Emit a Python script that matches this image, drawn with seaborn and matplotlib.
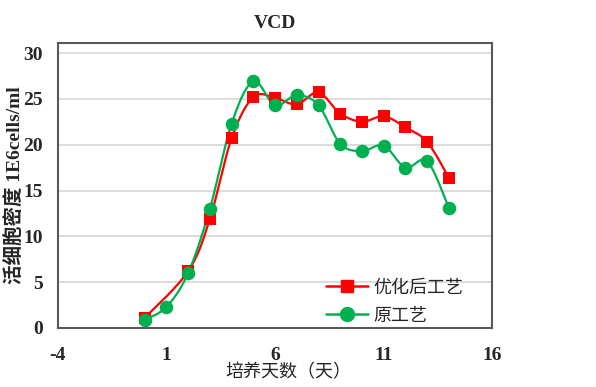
import matplotlib
matplotlib.use("Agg")
import matplotlib.pyplot as plt
from matplotlib.lines import Line2D
import numpy as np
import seaborn as sns

# data
days_opt = [0, 2, 3, 4, 5, 6, 7, 8, 9, 10, 11, 12, 13, 14]
vcd_opt = [1.1, 6.2, 11.9, 20.7, 25.2, 25.1, 24.4, 25.7, 23.4, 22.5, 23.1, 21.9, 20.3, 16.4]
days_old = [0, 1, 2, 3, 4, 5, 6, 7, 8, 9, 10, 11, 12, 13, 14]
vcd_old = [0.9, 2.3, 6.0, 13.0, 22.3, 26.9, 24.3, 25.4, 24.3, 20.1, 19.3, 19.9, 17.5, 18.2, 13.1]
labels = ["优化后工艺", "原工艺"]
xticks = [-4, 1, 6, 11, 16]
yticks = [0, 5, 10, 15, 20, 25, 30]

RED = "#FF0000"
GREEN = "#00B050"


def smooth(x, y, n=20):
    '''
    Catmull-Rom curve through the points, like the smoothed lines in Excel
    '''
    p = np.column_stack([x, y]).astype(float)
    p = np.vstack([p[0], p, p[-1]])
    out = []
    t = np.linspace(0, 1, n, endpoint=False)[:, None]
    for i in range(1, len(p) - 2):
        p0, p1, p2, p3 = p[i - 1], p[i], p[i + 1], p[i + 2]
        seg = 0.5 * ((2 * p1) + (-p0 + p2) * t + (2 * p0 - 5 * p1 + 4 * p2 - p3) * t ** 2
                     + (-p0 + 3 * p1 - 3 * p2 + p3) * t ** 3)
        out.append(seg)
    out.append(p[-2][None, :])
    out = np.vstack(out)
    return out[:, 0], out[:, 1]


sns.set_style("white")
plt.rcParams["font.family"] = ["Liberation Serif", "Noto Sans CJK SC"]
plt.rcParams["axes.unicode_minus"] = False

fig = plt.figure(figsize=(5.96, 3.87), dpi=100)
ax = fig.add_axes([0.097, 0.1525, 0.729, 0.7365])

for xs, ys, c, m, ms in [(days_opt, vcd_opt, RED, "s", 75), (days_old, vcd_old, GREEN, "o", 95)]:
    sx, sy = smooth(xs, ys)
    sns.lineplot(x=sx, y=sy, ax=ax, color=c, lw=1.6, sort=False, estimator=None, zorder=3)
    sns.scatterplot(x=xs, y=ys, ax=ax, color=c, marker=m, s=ms, linewidth=0, zorder=4)

ax.set_xlim(-4, 16)
ax.set_ylim(0, 31.1)
ax.set_xticks(xticks)
ax.set_yticks(yticks)
ax.yaxis.grid(True, color="#D9D9D9", lw=1.3)
ax.set_axisbelow(True)
ax.tick_params(length=0, labelsize=14)
ax.tick_params(axis="x", pad=14)
ax.tick_params(axis="y", pad=11)
for lab in ax.get_xticklabels() + ax.get_yticklabels():
    lab.set_fontweight("bold")
for sp in ax.spines.values():
    sp.set_color("#595959")
    sp.set_linewidth(1.5)

ax.set_title("VCD", fontsize=14, fontweight="bold", pad=11)
ax.set_xlabel("培养天数（天）", fontsize=13)
ax.xaxis.set_label_coords(0.53, -0.125)
ax.set_ylabel("活细胞密度 1E6cells/ml", fontsize=14, fontweight="bold", labelpad=0)
ax.yaxis.set_label_coords(-0.077, 0.5)

handles = [Line2D([], [], color=RED, marker="s", ms=9, lw=1.8),
           Line2D([], [], color=GREEN, marker="o", ms=10, lw=1.8)]
ax.legend(handles, labels, loc="lower right", bbox_to_anchor=(0.97, -0.045), frameon=False,
          fontsize=13, handlelength=2.3, handletextpad=0.3, labelspacing=0.6)

fig.savefig("out.png", dpi=100)
